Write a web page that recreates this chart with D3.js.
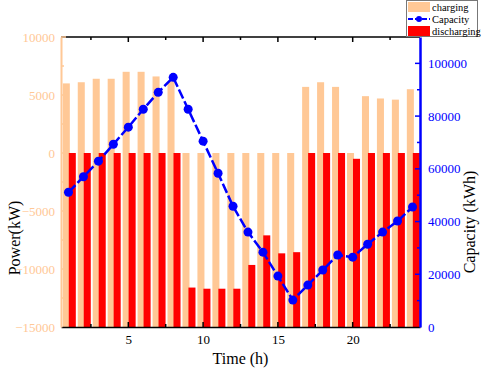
<!DOCTYPE html>
<html><head><meta charset="utf-8">
<script src="https://cdn.jsdelivr.net/npm/d3@7"></script>
<style>body{margin:0;background:#fff}svg{display:block}text{font-family:"Liberation Serif","Times New Roman",serif}</style>
</head><body><svg id="c" width="484" height="371"></svg>
<script>
const hours = d3.range(1, 25);
const charging = [6000,6100,6400,6400,7000,7000,6600,6200,0,0,0,0,0,0,0,0,5700,6100,5700,0,4900,4700,4600,5500];
const discharging = [0,0,0,0,0,0,0,0,-11600,-11700,-11700,-11700,-9650,-7100,-8650,-8550,0,0,0,-500,0,0,0,0];
const capacity = [51100,57000,62900,69300,75800,82600,89000,94700,82600,70500,58300,45800,36000,28400,19300,10200,15900,21600,27300,26500,31400,36000,40200,45500];
const xTicks = [5,10,15,20];
const powerTicks = [-15000,-10000,-5000,0,5000,10000];
const capTicks = [0,20000,40000,60000,80000,100000];

const PEACH = "#FFC896", RED = "#FF0000", BLUE = "#0000FF";
const L = 61, R = 420, T = 37, B = 327;
const svg = d3.select("#c");
const x = d3.scaleLinear().domain([0.5, 24.5]).range([L, R]);
const yP = d3.scaleLinear().domain([-15000, 10000]).range([B, T]);
const yC = d3.scaleLinear().domain([0, 110000]).range([B, T]);

svg.append("defs").append("clipPath").attr("id","clip").append("rect")
  .attr("x", L).attr("y", T).attr("width", R-L).attr("height", B-T);
const g = svg.append("g").attr("clip-path","url(#clip)");

// charging bars (from axis minimum)
g.selectAll(".ch").data(hours).join("rect")
  .attr("x", d => x(d - 0.38)).attr("width", x(0.47) - x(0))
  .attr("y", (d,i) => yP(charging[i])).attr("height", (d,i) => yP(-15000) - yP(charging[i]))
  .attr("fill", PEACH);
// discharging bars
g.selectAll(".dc").data(hours).join("rect")
  .attr("x", d => x(d + 0.02)).attr("width", x(0.47) - x(0))
  .attr("y", (d,i) => yP(discharging[i])).attr("height", (d,i) => yP(-15000) - yP(discharging[i]))
  .attr("fill", RED);

// capacity line
const line = d3.line().x((d,i) => x(hours[i])).y(d => yC(d));
svg.append("path").datum(capacity).attr("d", line)
  .attr("fill","none").attr("stroke", BLUE).attr("stroke-width", 2.5).attr("stroke-dasharray","10,3");
svg.selectAll(".pt").data(capacity).join("circle")
  .attr("cx", (d,i) => x(hours[i])).attr("cy", d => yC(d)).attr("r", 4.5).attr("fill", BLUE);

// bottom axis
const minorX = d3.range(2.5, 24.5, 2.5);
const bot = svg.append("g").attr("transform", `translate(0,${B})`)
  .call(d3.axisBottom(x).tickValues(xTicks).tickSize(0).tickPadding(8).tickFormat(d3.format("d")));
bot.select(".domain").attr("stroke","#000").attr("stroke-width",1.5);
bot.selectAll("text").attr("font-size", 13).attr("fill","#000");
svg.append("g").selectAll("line").data(minorX).join("line")
  .attr("x1", d => x(d)).attr("x2", d => x(d)).attr("y1", B).attr("y2", d => B - (d % 5 === 0 ? 5 : 3))
  .attr("stroke","#000").attr("stroke-width",1.5);
// top axis
svg.append("line").attr("x1", L).attr("x2", R).attr("y1", T).attr("y2", T).attr("stroke","#000").attr("stroke-width",1.5);
svg.append("g").selectAll("line").data(minorX).join("line")
  .attr("x1", d => x(d)).attr("x2", d => x(d)).attr("y1", T).attr("y2", d => T + (d % 5 === 0 ? 5 : 3))
  .attr("stroke","#000").attr("stroke-width",1.5);

// left axis
const left = svg.append("g").attr("transform", `translate(${L},0)`)
  .call(d3.axisLeft(yP).tickValues(powerTicks).tickSize(0).tickPadding(6).tickFormat(d3.format("d")));
left.select(".domain").attr("stroke", PEACH).attr("stroke-width", 2);
left.selectAll("text").attr("font-size", 13).attr("fill", PEACH);
svg.append("g").selectAll("line").data(d3.range(-12500, 10001, 2500)).join("line")
  .attr("x1", L).attr("x2", d => L + (d % 5000 === 0 ? 5 : 3)).attr("y1", d => yP(d)).attr("y2", d => yP(d))
  .attr("stroke", PEACH).attr("stroke-width", 1.5);

// right axis
const right = svg.append("g").attr("transform", `translate(${R},0)`)
  .call(d3.axisRight(yC).tickValues(capTicks).tickSize(0).tickPadding(8).tickFormat(d3.format("d")));
right.select(".domain").attr("stroke", BLUE).attr("stroke-width", 2.5);
right.selectAll("text").attr("font-size", 13).attr("fill", BLUE);
svg.append("g").selectAll("line").data(d3.range(10000, 110000, 10000)).join("line")
  .attr("x1", R).attr("x2", d => R - (d % 20000 === 0 ? 5 : 3)).attr("y1", d => yC(d)).attr("y2", d => yC(d))
  .attr("stroke", BLUE).attr("stroke-width", 1.5);

// axis titles
svg.append("text").attr("x", (L+R)/2).attr("y", 364).attr("text-anchor","middle").attr("font-size",16).text("Time (h)");
svg.append("text").attr("transform", `translate(20,238) rotate(-90)`).attr("text-anchor","middle").attr("font-size",16).text("Power(kW)");
svg.append("text").attr("transform", `translate(475,222) rotate(-90)`).attr("text-anchor","middle").attr("font-size",16).text("Capacity (kWh)");

// legend
const lg = svg.append("g");
lg.append("rect").attr("x", 406.5).attr("y", 0.5).attr("width", 71).attr("height", 36).attr("fill","#fff").attr("stroke","#777").attr("stroke-width",1);
const items = [
  {name:"charging", type:"rect", color:PEACH},
  {name:"Capacity", type:"line", color:BLUE},
  {name:"discharging", type:"rect", color:RED}
];
items.forEach((it, i) => {
  const cy = 7 + i * 12;
  if (it.type === "rect") {
    lg.append("rect").attr("x", 408).attr("y", cy - 5).attr("width", 22).attr("height", 10).attr("fill", it.color);
  } else {
    lg.append("line").attr("x1", 408).attr("x2", 430).attr("y1", cy).attr("y2", cy).attr("stroke", it.color).attr("stroke-width", 2).attr("stroke-dasharray","5,2");
    lg.append("circle").attr("cx", 419).attr("cy", cy).attr("r", 3).attr("fill", it.color);
  }
  lg.append("text").attr("x", 432).attr("y", cy + 4).attr("font-size", 10.5).attr("fill","#000").text(it.name);
});
</script></body></html>
